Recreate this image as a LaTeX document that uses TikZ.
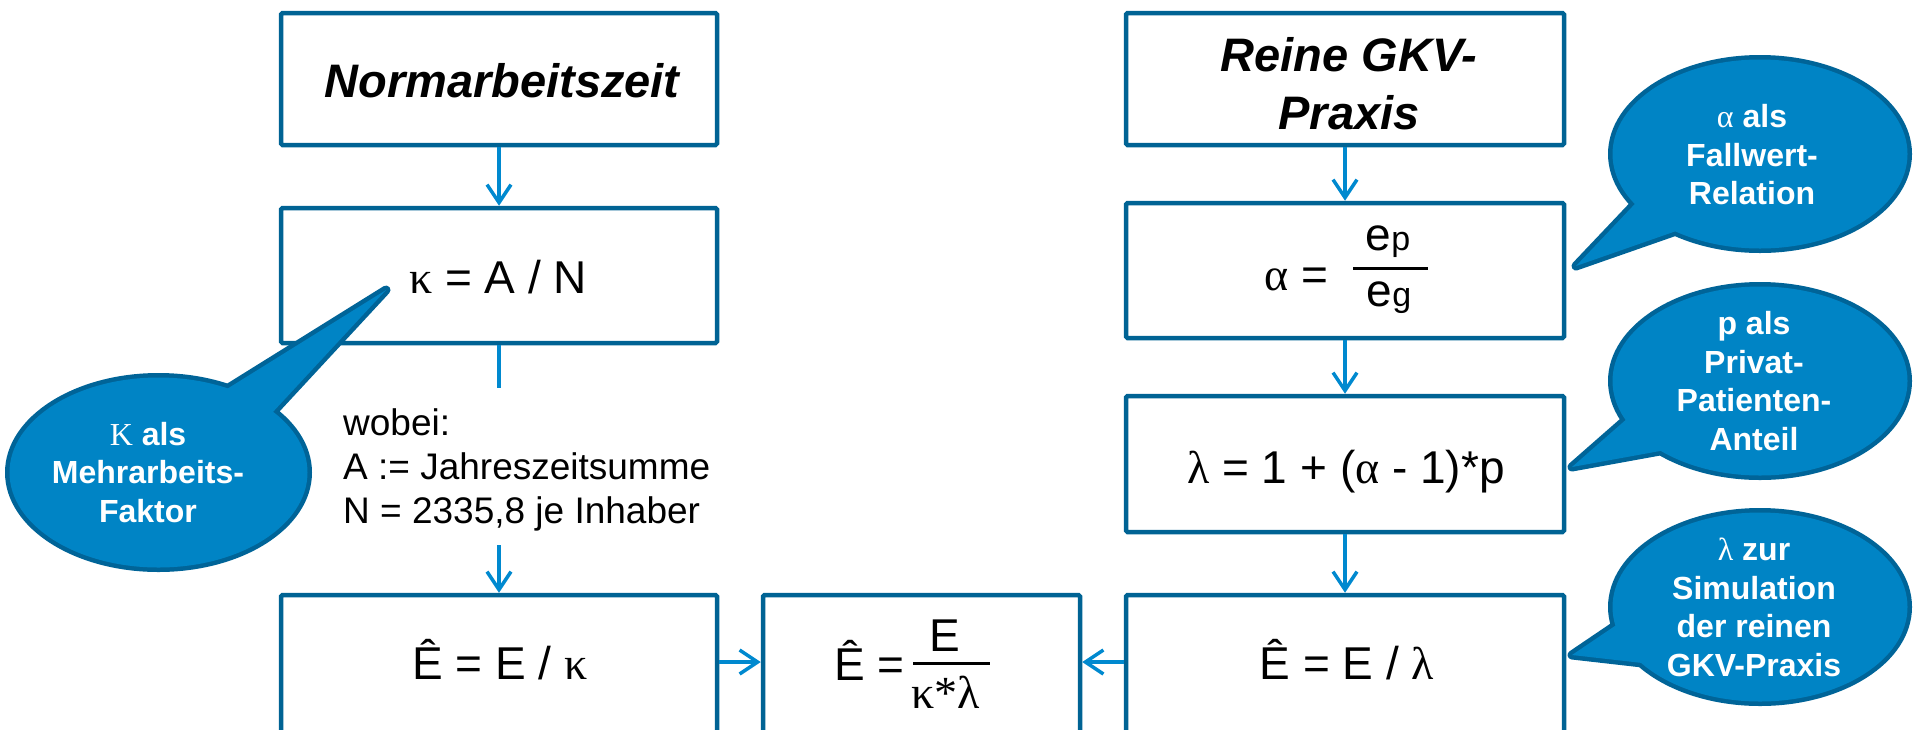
\documentclass[tikz,border=0pt]{standalone}
\usepackage{fontspec}
\setmainfont{Liberation Sans}
\newfontfamily\grk{Liberation Serif}
\usetikzlibrary{arrows.meta}

\definecolor{boxline}{RGB}{0,99,148}
\definecolor{bubblefill}{RGB}{0,132,197}
\definecolor{bubbleline}{RGB}{0,100,152}
\definecolor{flow}{RGB}{0,137,207}

% Greek letters are set upright in a serif face
\newcommand\gk[1]{{\grk\mdseries #1}}

% speech bubble: ellipse with a pointed tail, one common outline
% #1 centre, #2 x radius, #3 y radius, #4 tail base, #5 tail tip, #6 tail base
\newcommand\speechbubble[6]{%
  \draw[bubbleline, line width=9pt, line join=round]
    #1 ellipse [x radius=#2, y radius=#3] #4 -- #5 -- #6 -- cycle;
  \fill[bubblefill] #1 ellipse [x radius=#2, y radius=#3];
  \fill[bubblefill] #4 -- #5 -- #6 -- cycle;}

\tikzset{
  stepbox/.style={draw=boxline, line width=4.5pt, fill=white,
    rounded corners=1.5pt, inner sep=0pt},
  flowline/.style={draw=flow, line width=4pt},
  flowarrow/.style={flowline,
    -{Straight Barb[length=18pt,width=24pt,line width=3.5pt]}},
  formula/.style={anchor=base, inner sep=0pt,
    font=\fontsize{46}{50}\selectfont},
  fracbar/.style={fill=black, inner sep=0pt, minimum height=3pt},
  title/.style={inner sep=0pt, align=center,
    font=\fontsize{47}{58}\selectfont\bfseries\itshape},
  note/.style={inner sep=0pt, align=left,
    font=\fontsize{37}{44}\selectfont},
  bubbletext/.style={text=white, align=center, inner sep=0pt,
    font=\fontsize{32}{38.5}\selectfont\bfseries},
}

\begin{document}
\begin{tikzpicture}[x=1pt,y=-1pt]
\useasboundingbox (0,0) rectangle (1913,729);
\clip (0,0) rectangle (1913,729);

% ---- boxes ----
\node[stepbox, minimum width=436pt, minimum height=132pt] (norm)    at (499,79)      {};
\node[stepbox, minimum width=436pt, minimum height=135pt] (kappa)   at (499,275.5)   {};
\node[stepbox, minimum width=436pt, minimum height=165pt] (ekappa)  at (499,677.5)   {};
\node[stepbox, minimum width=438pt, minimum height=132pt] (gkv)     at (1345,79)     {};
\node[stepbox, minimum width=438pt, minimum height=135pt] (alpha)   at (1345,270.5)  {};
\node[stepbox, minimum width=438pt, minimum height=136pt] (lambda)  at (1345,464)    {};
\node[stepbox, minimum width=438pt, minimum height=165pt] (elambda) at (1345,677.5)  {};
\node[stepbox, minimum width=317pt, minimum height=165pt] (result)  at (921.5,677.5) {};

% ---- flow ----
\coordinate (gapTop) at (499,388);
\coordinate (gapBot) at (499,545);
\draw[flowarrow] (norm) -- (kappa);
\draw[flowline]  (kappa) -- (gapTop);
\draw[flowarrow] (gapBot) -- (ekappa);
\draw[flowarrow] (gkv) -- (alpha);
\draw[flowarrow] (alpha) -- (lambda);
\draw[flowarrow] (lambda) -- (elambda);
\draw[flowarrow] ([yshift=15.5pt]ekappa.east) -- ([yshift=15.5pt]result.west);
\draw[flowarrow] ([yshift=15.5pt]elambda.west) -- ([yshift=15.5pt]result.east);

% ---- speech bubbles ----
\speechbubble{(158.5,472.5)}{149}{95}{(190,412)}{(386,290)}{(246,441)}
\speechbubble{(1760,154)}{147.5}{94.5}{(1650,188)}{(1576,266)}{(1702,222)}
\speechbubble{(1760,381)}{147.5}{94.5}{(1645,403)}{(1572,467)}{(1693,445)}
\speechbubble{(1760,607)}{147.5}{94.5}{(1640,609)}{(1572,655)}{(1660,665)}

\node[bubbletext] (kappaNote)  at (148,472.5) {\gk{Κ} als\\Mehrarbeits-\\Faktor};
\node[bubbletext] (alphaNote)  at (1752,155)  {\gk{α} als\\Fallwert-\\Relation};
\node[bubbletext] (pNote)      at (1754,381)  {p als\\Privat-\\Patienten-\\Anteil};
\node[bubbletext] (lambdaNote) at (1754,607.5){\gk{λ} zur\\Simulation\\der reinen\\GKV-Praxis};

% ---- titles ----
\node[title, anchor=base] (normText) at (502,97) {Normarbeitszeit};
\node[title] (gkvText) at (1349,84) {Reine GKV-\\Praxis};

% ---- formulas ----
\node[formula] (kappaText)   at (498,293)  {\gk{κ} = A / N};
\node[formula] (ekappaText)  at (500,679)  {Ê = E / \gk{κ}};
\node[formula] (elambdaText) at (1347,679) {Ê = E / \gk{λ}};
\node[formula] (lambdaText)  at (1346,483) {\gk{λ} = 1 + (\gk{α} - 1)*p};

\node[formula, anchor=base west] (alphaLhs) at (1264,290) {\gk{α} =};
\node[formula] (alphaNum) at (1388,250) {e{\fontsize{34}{34}\selectfont p}};
\node[fracbar, minimum width=75pt] (alphaBar) at (1390.5,268) {};
\node[formula] (alphaDen) at (1389,306) {e{\fontsize{34}{34}\selectfont g}};

\node[formula, anchor=base west] (resultLhs) at (834,680) {Ê =};
\node[formula] (resultNum) at (945,651) {E};
\node[fracbar, minimum width=77pt] (resultBar) at (951.5,663) {};
\node[formula] (resultDen) at (945.5,708) {\gk{κ*λ}};

% ---- explanation under the first formula ----
\node[note, anchor=west] (where) at (343,469.5)
  {wobei:\\A := Jahreszeitsumme\\N = 2335,8 je Inhaber};
\end{tikzpicture}
\end{document}
